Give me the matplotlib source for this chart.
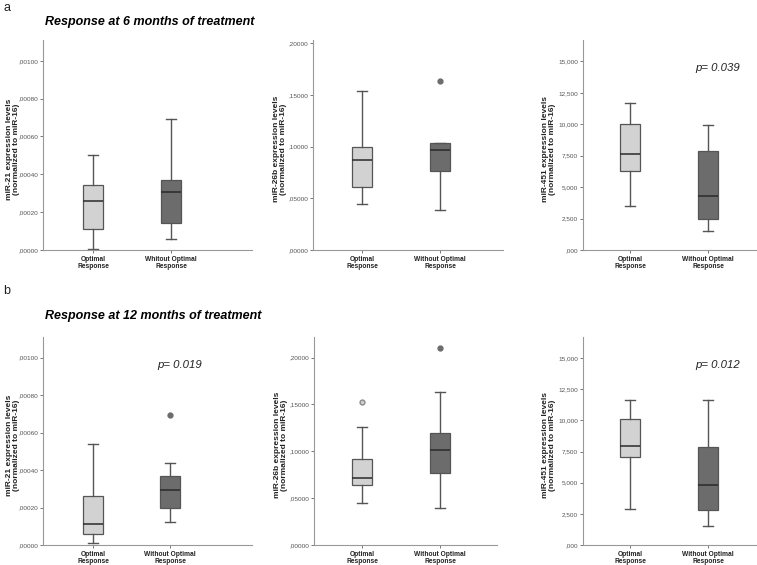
import matplotlib
matplotlib.use("Agg")
import matplotlib.pyplot as plt
from matplotlib.ticker import FuncFormatter, MultipleLocator

plt.rcParams['font.family'] = ['Liberation Sans', 'DejaVu Sans']

# data read off the boxes: [optimal, without optimal]
genes = ["miR-21", "miR-26b", "miR-451"]

m6_whislo = [[0.000007, 0.00006], [0.0446, 0.039], [3.52, 1.52]]
m6_q1 = [[0.000110, 0.000144], [0.0612, 0.0760], [6.30, 2.43]]
m6_med = [[0.000261, 0.000306], [0.0869, 0.0965], [7.60, 4.30]]
m6_q3 = [[0.000345, 0.000372], [0.1000, 0.1035], [10.03, 7.88]]
m6_whishi = [[0.000501, 0.000693], [0.1534, 0.1035], [11.70, 9.95]]
m6_fliers = [[[], []], [[], [0.163]], [[], []]]
m6_groups = [["Optimal\nResponse", "Whitout Optimal\nResponse"],
             ["Optimal\nResponse", "Without Optimal\nResponse"],
             ["Optimal\nResponse", "Without Optimal\nResponse"]]
m6_p = [None, None, "p= 0.039"]

m12_whislo = [[0.000009, 0.000123], [0.0450, 0.0394], [2.93, 1.54]]
m12_q1 = [[0.000059, 0.000199], [0.0638, 0.0766], [7.05, 2.85]]
m12_med = [[0.000110, 0.000295], [0.0716, 0.1011], [7.93, 4.84]]
m12_q3 = [[0.000260, 0.000368], [0.0922, 0.1191], [10.08, 7.90]]
m12_whishi = [[0.000541, 0.000440], [0.1255, 0.1635], [11.68, 11.62]]
m12_fliers = [[[], [0.000694]], [[0.1525], [0.2103]], [[], []]]
m12_groups = [["Optimal\nResponse", "Without Optimal\nResponse"]] * 3
m12_p = ["p= 0.019", None, "p= 0.012"]

ymax = [0.00111, 0.203, 16.7]
ymax12 = [0.00111, 0.222, 16.7]
ystep = [0.0002, 0.05, 2.5]
ydec = [5, 5, 3]

W, H = 757, 565
fig = plt.figure(figsize=(W / 100, H / 100), dpi=100)


def px_rect(l, t, r, b):
    return [l / W, 1 - b / H, (r - l) / W, (b - t) / H]


def fmt(dec):
    def f(v, pos):
        s = f"{v:.{dec}f}"
        if s.startswith("0."):
            s = s[1:]
        return s.replace(".", ",")
    return FuncFormatter(f)


light = "#d2d2d2"
dark = "#6c6c6c"


def panel(rect, i, whislo, q1, med, q3, whishi, fliers, groups, top, ptxt, xlim, label_x):
    ax = fig.add_axes(rect)
    stats = []
    for k in range(2):
        stats.append(dict(whislo=whislo[i][k], q1=q1[i][k], med=med[i][k],
                          q3=q3[i][k], whishi=whishi[i][k], fliers=fliers[i][k]))
    bp = ax.bxp(stats, positions=[0, 1], widths=0.25, patch_artist=True,
                boxprops=dict(edgecolor="#555555", linewidth=0.9),
                whiskerprops=dict(color="#555555", linewidth=1.0),
                capprops=dict(color="#555555", linewidth=1.0),
                medianprops=dict(color="#2a2a2a", linewidth=1.1),
                flierprops=dict(marker="o", markersize=3.5, markerfacecolor=dark,
                                markeredgecolor=dark))
    for patch, c in zip(bp["boxes"], [light, dark]):
        patch.set_facecolor(c)
    if len(bp["fliers"]) > 0 and len(fliers[i][0]) > 0:
        bp["fliers"][0].set_markerfacecolor("#cfcfcf")
        bp["fliers"][0].set_markeredgecolor("#8a8a8a")
    ax.set_xlim(*xlim)
    ax.set_ylim(0, top)
    ax.yaxis.set_major_locator(MultipleLocator(ystep[i]))
    ax.yaxis.set_major_formatter(fmt(ydec[i]))
    ax.set_xticks([0, 1])
    ax.set_xticklabels(groups, fontsize=4.8, fontweight="bold", color="#222222",
                       linespacing=0.95)
    ax.tick_params(axis="y", labelsize=4.6, labelcolor="#555555", length=2.5,
                   width=0.7, color="#777777", pad=1)
    ax.tick_params(axis="x", length=2.5, width=0.7, color="#777777", pad=2)
    for s in ["top", "right"]:
        ax.spines[s].set_visible(False)
    for s in ["left", "bottom"]:
        ax.spines[s].set_color("#999999")
        ax.spines[s].set_linewidth(0.8)
    ax.set_ylabel(genes[i] + " expression levels\n(normalized to miR-16)",
                  fontsize=6, fontweight="bold", color="#222222", linespacing=1.0)
    ax.yaxis.set_label_coords(label_x, 0.48)
    if ptxt:
        ax.text(1.13, top * 0.865, ptxt, fontsize=8.2, style="italic",
                ha="center", va="center", color="#222222")
    return ax


rows = [
    (40, 250, m6_whislo, m6_q1, m6_med, m6_q3, m6_whishi, m6_fliers, m6_groups, ymax, m6_p,
     [(43, 252, 93, 171), (313, 503, 362, 440), (583, 756, 630, 708)], [20, 287, 556]),
    (337, 545, m12_whislo, m12_q1, m12_med, m12_q3, m12_whishi, m12_fliers, m12_groups, ymax12, m12_p,
     [(43, 252, 93, 170), (314, 497, 362, 440), (583, 756, 630, 708)], [20, 288, 556]),
]

for t, b, wlo, q1, med, q3, whi, fl, grp, tops, ps, cols, labx in rows:
    for i in range(3):
        l, r, c0, c1 = cols[i]
        sp = c1 - c0
        xlim = (-(c0 - l) / sp, 1 + (r - c1) / sp)
        lx = (labx[i] - l) / (r - l)
        panel(px_rect(l, t, r, b), i, wlo, q1, med, q3, whi, fl, grp[i], tops[i], ps[i], xlim, lx)

fig.text(3 / W, 1 - 8 / H, "a", fontsize=9, va="center", ha="left", color="#222222")
fig.text(3 / W, 1 - 291 / H, "b", fontsize=9, va="center", ha="left", color="#222222")
fig.text(45 / W, 1 - 22 / H, "Response at 6 months of treatment", fontsize=9,
         fontweight="bold", style="italic", va="center", ha="left")
fig.text(45 / W, 1 - 316 / H, "Response at 12 months of treatment", fontsize=9,
         fontweight="bold", style="italic", va="center", ha="left")

fig.savefig("out.png", dpi=100, facecolor="white")
